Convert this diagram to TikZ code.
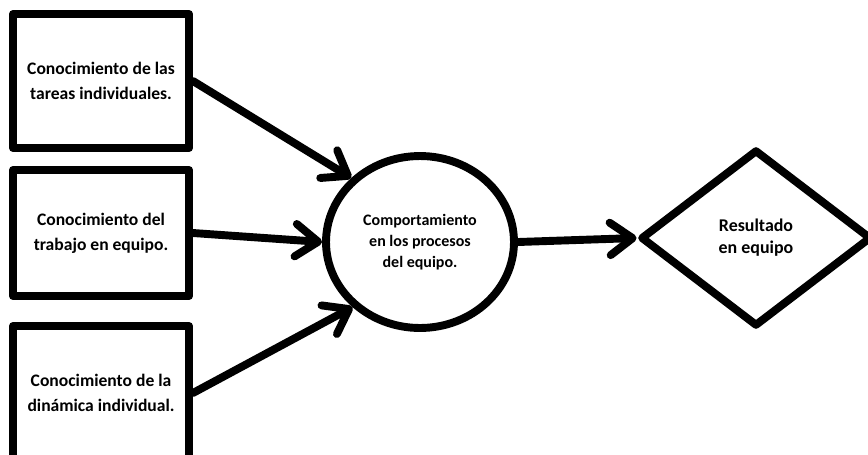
\documentclass[tikz,border=0pt]{standalone}
\usepackage{fontspec}
\setmainfont{Carlito}
\usepackage{tikz}
\usetikzlibrary{arrows.meta, positioning, shapes.geometric}

\tikzset{
  caja/.style={draw, line width=4.5pt, line join=round, minimum width=3.52cm, inner sep=2pt, align=center, font=\fontsize{10}{14.2}\selectfont\bfseries},
  flecha/.style={line width=4.5pt, line cap=round, -{Straight Barb[length=4.5mm,width=6.5mm,round]}}
}

\begin{document}
\begin{tikzpicture}[x=0.02cm,y=-0.02cm]
\useasboundingbox (0,0) rectangle (868,454);
% Conocimientos de entrada
\node[caja, minimum height=2.68cm] (tareas) at (101,81) {Conocimiento de las\\tareas individuales.};
\node[caja, minimum height=2.52cm] (trabajo) at (101,233) {Conocimiento del\\trabajo en equipo.};
\node[caja, minimum height=2.68cm] (dinamica) at (101,393) {Conocimiento de la\\din\'amica individual.};
% Proceso y resultado
\node[ellipse, draw, line width=4.5pt, minimum width=3.76cm, minimum height=3.44cm, align=center,
  font=\fontsize{9.1}{12}\selectfont\bfseries] (proceso) at (420,242) {Comportamiento\\en los procesos\\del equipo.};
\node[diamond, draw, line width=4.5pt, line join=round, inner sep=0pt, minimum width=4.62cm, minimum height=3.54cm, align=center,
  font=\fontsize{10.2}{12.5}\selectfont\bfseries] (resultado) at (756,238) {Resultado\\en equipo};
% Flechas
\draw[flecha] (tareas.east) -- (proceso.137);
\draw[flecha] (trabajo.east) -- (proceso.west);
\draw[flecha] (dinamica.east) -- (proceso.224);
\draw[flecha] (proceso.east) -- (resultado.west);
\end{tikzpicture}
\end{document}
